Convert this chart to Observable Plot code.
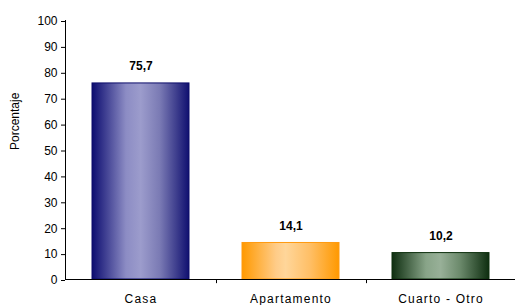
<!DOCTYPE html>
<html><head><meta charset="utf-8">
<script src="https://cdn.jsdelivr.net/npm/d3@7"></script>
<script src="https://cdn.jsdelivr.net/npm/@observablehq/plot@0.6"></script>
<style>body{margin:0;background:#fff}
g[aria-label="x-axis tick label"] text{letter-spacing:1.2px}
</style>
</head><body><div id="chart"></div>
<script>
const categories = ["Casa", "Apartamento", "Cuarto - Otro"];
const values = [75.7, 14.1, 10.2];
const yTicks = [0, 10, 20, 30, 40, 50, 60, 70, 80, 90, 100];
const gradients = [
  {id: "gCasa", stops: [["0%", "#0c0c70"], ["35%", "#8c8cc4"], ["50%", "#9c9ccc"], ["70%", "#7a7ab4"], ["100%", "#101070"]], stroke: "#0c0c6a"},
  {id: "gApto", stops: [["0%", "#ff9900"], ["35%", "#ffcc88"], ["45%", "#ffd69a"], ["70%", "#ffbf66"], ["100%", "#ff9900"]], stroke: "#ff9a10"},
  {id: "gOtro", stops: [["0%", "#0e2e10"], ["35%", "#88a488"], ["50%", "#98b098"], ["70%", "#6c8a6c"], ["100%", "#0e2e10"]], stroke: "#0e300e"}
];
const data = categories.map((c, i) => ({cat: c, value: values[i], fill: `url(#${gradients[i].id})`, stroke: gradients[i].stroke}));
const ns = "http://www.w3.org/2000/svg";
function defs() {
  const g = document.createElementNS(ns, "defs");
  for (const gr of gradients) {
    const lg = document.createElementNS(ns, "linearGradient");
    lg.setAttribute("id", gr.id);
    lg.setAttribute("x1", "0"); lg.setAttribute("x2", "1"); lg.setAttribute("y1", "0"); lg.setAttribute("y2", "0");
    for (const [o, c] of gr.stops) {
      const s = document.createElementNS(ns, "stop");
      s.setAttribute("offset", o); s.setAttribute("stop-color", c);
      lg.appendChild(s);
    }
    g.appendChild(lg);
  }
  return g;
}
function yAxisLine(index, scales, values, dims) {
  const l = document.createElementNS(ns, "line");
  l.setAttribute("x1", dims.marginLeft + 0.5); l.setAttribute("x2", dims.marginLeft + 0.5);
  l.setAttribute("y1", scales.y(0)); l.setAttribute("y2", scales.y(100));
  l.setAttribute("stroke", "#000");
  return l;
}
const fmt = v => v.toFixed(1).replace(".", ",");
const chart = Plot.plot({
  width: 515, height: 305,
  marginLeft: 65, marginRight: 0, marginTop: 20, marginBottom: 26,
  style: {fontFamily: "'Liberation Sans', Arial, sans-serif", fontSize: "12px", color: "#000", background: "#fff"},
  x: {domain: categories, range: [65, 516], paddingInner: 0.353, paddingOuter: 0.1765},
  y: {domain: [0, 100]},
  color: {type: "identity"},
  marks: [
    defs,
    Plot.barY(data, {x: "cat", y: "value", fill: "fill", stroke: "stroke", strokeWidth: 1}),
    Plot.text(data, {x: "cat", y: "value", text: d => fmt(d.value), dy: -17, fontWeight: "bold", fontSize: 12, fill: "#000", style: "letter-spacing:1px"}),
    Plot.ruleY([0], {stroke: "#000"}),
    Plot.ruleX(categories.slice(0, 2), {x: d => d, dx: 75.5, y1: 0, y2: -1.6, stroke: "#000"}),
    yAxisLine,
    Plot.axisY({ticks: yTicks, tickSize: 4, tickPadding: 4, dy: 1, tickFormat: d => d, label: null, fontSize: 12}),
    Plot.text(["Porcentaje"], {frameAnchor: "left", dx: -50, rotate: -90, text: d => d, fontSize: 12, fill: "#000", style: "letter-spacing:1.5px"}),
    Plot.axisX({tickSize: 0, tickPadding: 15, label: null, fontSize: 12})
  ]
});
document.getElementById("chart").appendChild(chart);
</script>
</body></html>
